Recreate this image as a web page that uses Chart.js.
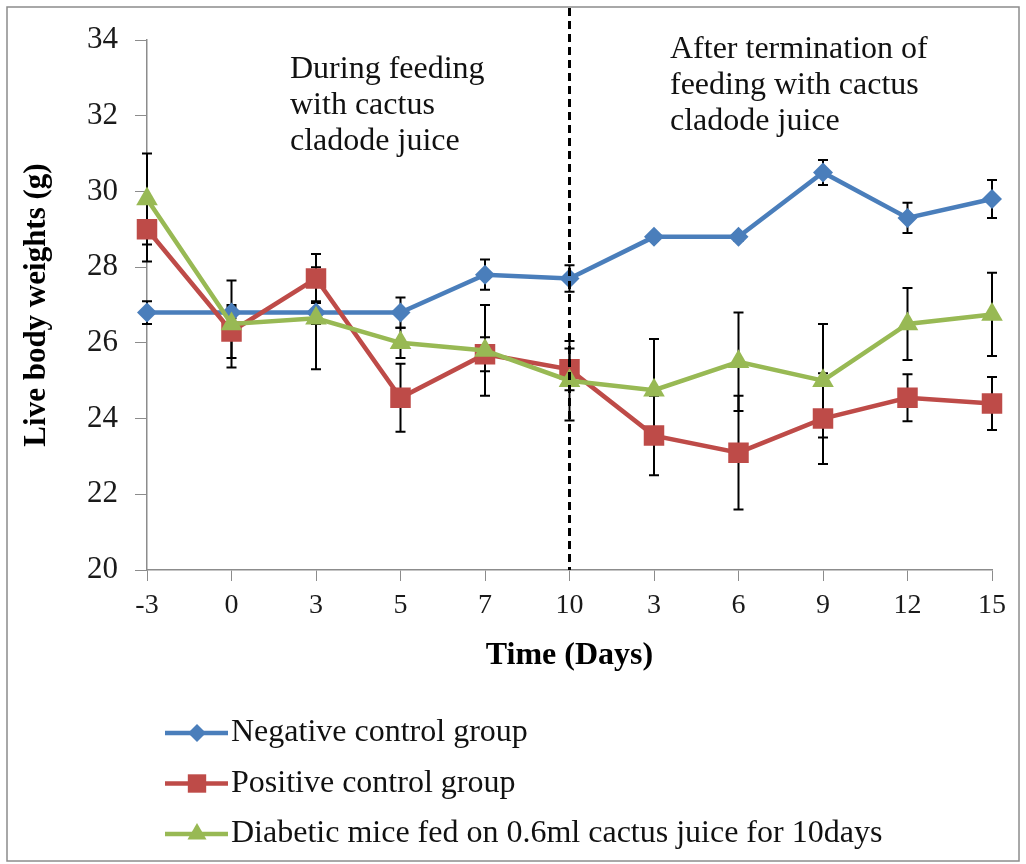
<!DOCTYPE html>
<html>
<head>
<meta charset="utf-8">
<script src="https://cdn.jsdelivr.net/npm/chart.js@4/dist/chart.umd.min.js"></script>
<style>
  html, body { margin: 0; padding: 0; background: #fff; }
  canvas { display: block; }
</style>
</head>
<body>
<canvas id="myChart" width="1026" height="864"></canvas>
<script>
// days on the x axis (before and after juice withdrawal)
const dayLabels = ['-3', '0', '3', '5', '7', '10', '3', '6', '9', '12', '15'];

// mean live body weight (g) per group
const negativeGroup = [26.8, 26.8, 26.8, 26.8, 27.8, 27.7, 28.8, 28.8, 30.5, 29.3, 29.8];
const positiveGroup = [29.0, 26.3, 27.7, 24.55, 25.7, 25.3, 23.55, 23.1, 24.0, 24.55, 24.4];
const cactusGroup   = [29.8, 26.5, 26.65, 26.0, 25.8, 25.0, 24.75, 25.5, 25.0, 26.5, 26.75];

// standard error for each point
const negativeErr = [0.3, 0.15, 0.3, 0.4, 0.4, 0.35, 0.1, 0.1, 0.33, 0.4, 0.5];
const positiveErr = [0.85, 0.7, 0.65, 0.9, 0.45, 0.55, 1.05, 1.5, 1.2, 0.62, 0.7];
const cactusErr   = [1.2, 1.15, 1.35, 0.4, 1.2, 1.05, 1.35, 1.3, 1.5, 0.95, 1.1];

const seriesNames = [
  'Negative control group',
  'Positive control group',
  'Diabetic mice fed on 0.6ml cactus juice for 10days'
];

const yTicks = [20, 22, 24, 26, 28, 30, 32, 34];
const withdrawalIndex = 5; // juice stopped after day 10

const fontSerif = '"Liberation Serif", "Times New Roman", serif';
const blue = '#4A7EBB';
const red = '#BE4B48';
const green = '#98B954';

// error bars, drawn under the markers
const errorBars = {
  id: 'errorBars',
  beforeDatasetsDraw(chart) {
    const ctx = chart.ctx;
    const y = chart.scales.y;
    ctx.save();
    ctx.strokeStyle = '#000';
    ctx.lineWidth = 2;
    chart.data.datasets.forEach((ds, i) => {
      const meta = chart.getDatasetMeta(i);
      meta.data.forEach((pt, j) => {
        const v = ds.data[j];
        const e = ds.errors[j];
        const yTop = y.getPixelForValue(v + e);
        const yBot = y.getPixelForValue(v - e);
        ctx.beginPath();
        ctx.moveTo(pt.x, yTop);
        ctx.lineTo(pt.x, yBot);
        ctx.moveTo(pt.x - 5, yTop);
        ctx.lineTo(pt.x + 5, yTop);
        ctx.moveTo(pt.x - 5, yBot);
        ctx.lineTo(pt.x + 5, yBot);
        ctx.stroke();
      });
    });
    ctx.restore();
  }
};

// dashed divider, phase notes, legend and outer frame
const extras = {
  id: 'extras',
  afterDatasetsDraw(chart) {
    const ctx = chart.ctx;
    const area = chart.chartArea;
    const xs = chart.scales.x;
    const xDiv = xs.getPixelForValue(withdrawalIndex);

    ctx.save();
    ctx.strokeStyle = '#000';
    ctx.lineWidth = 3;
    ctx.setLineDash([8, 5]);
    ctx.beginPath();
    ctx.moveTo(xDiv, 8);
    ctx.lineTo(xDiv, area.bottom);
    ctx.stroke();
    ctx.restore();
  },
  afterDraw(chart) {
    const ctx = chart.ctx;
    const area = chart.chartArea;

    ctx.save();
    ctx.fillStyle = '#111';
    ctx.font = '32px ' + fontSerif;
    ctx.textBaseline = 'alphabetic';
    ctx.textAlign = 'left';
    ['During feeding', 'with cactus', 'cladode juice'].forEach((t, i) => {
      ctx.fillText(t, area.left + 143, area.top + 38 + i * 36);
    });
    ['After termination of', 'feeding with cactus', 'cladode juice'].forEach((t, i) => {
      ctx.fillText(t, area.left + 523, area.top + 18 + i * 36);
    });

    // legend
    const colors = [blue, red, green];
    const styles = ['rectRot', 'rect', 'triangle'];
    const radii = [9, 13, 11];
    ctx.font = '32px ' + fontSerif;
    ctx.textBaseline = 'middle';
    seriesNames.forEach((name, i) => {
      const cy = 733 + i * 50.5;
      ctx.strokeStyle = colors[i];
      ctx.lineWidth = 4.5;
      ctx.beginPath();
      ctx.moveTo(165, cy);
      ctx.lineTo(228, cy);
      ctx.stroke();
      ctx.fillStyle = colors[i];
      Chart.helpers.drawPoint(ctx, {
        pointStyle: styles[i], radius: radii[i], rotation: 0, borderWidth: 0
      }, 197, cy);
      ctx.fillStyle = '#111';
      ctx.fillText(name, 231, cy);
    });

    // outer frame
    ctx.strokeStyle = '#8c8c8c';
    ctx.lineWidth = 1.5;
    ctx.setLineDash([]);
    ctx.strokeRect(7, 7, 1012, 854);
    ctx.restore();
  }
};

const ctx = document.getElementById('myChart');

new Chart(ctx, {
  type: 'line',
  data: {
    labels: dayLabels,
    datasets: [
      {
        label: seriesNames[0],
        data: negativeGroup,
        errors: negativeErr,
        borderColor: blue,
        backgroundColor: blue,
        borderWidth: 4.5,
        pointStyle: 'rectRot',
        pointRadius: 10,
        pointBorderWidth: 0,
        order: 3
      },
      {
        label: seriesNames[1],
        data: positiveGroup,
        errors: positiveErr,
        borderColor: red,
        backgroundColor: red,
        borderWidth: 4.5,
        pointStyle: 'rect',
        pointRadius: 14.5,
        pointBorderWidth: 0,
        order: 2
      },
      {
        label: seriesNames[2],
        data: cactusGroup,
        errors: cactusErr,
        borderColor: green,
        backgroundColor: green,
        borderWidth: 4.5,
        pointStyle: 'triangle',
        pointRadius: 12.5,
        pointBorderWidth: 0,
        order: 1
      }
    ]
  },
  options: {
    responsive: false,
    animation: false,
    layout: {
      padding: { top: 40, right: 34, bottom: 189, left: 0 }
    },
    plugins: {
      legend: { display: false },
      tooltip: { enabled: false }
    },
    elements: {
      line: { tension: 0 }
    },
    scales: {
      x: {
        type: 'category',
        offset: false,
        grid: {
          drawOnChartArea: false,
          drawTicks: true,
          tickLength: 11,
          color: '#8c8c8c'
        },
        border: { display: true, color: '#8c8c8c', width: 1.5 },
        ticks: {
          color: '#1a1a1a',
          padding: 8,
          maxRotation: 0,
          autoSkip: false,
          font: { family: fontSerif, size: 28 }
        },
        title: {
          display: true,
          text: 'Time (Days)',
          color: '#000',
          padding: { top: 0, bottom: 0 },
          font: { family: fontSerif, size: 32, weight: 'bold' }
        },
        afterFit(scale) { scale.height = 105; }
      },
      y: {
        min: 20,
        max: 34,
        afterBuildTicks(scale) {
          scale.ticks = yTicks.map(v => ({ value: v }));
        },
        grid: {
          drawOnChartArea: false,
          drawTicks: true,
          tickLength: 12,
          color: '#8c8c8c'
        },
        border: { display: true, color: '#8c8c8c', width: 1.5 },
        ticks: {
          color: '#1a1a1a',
          padding: 17,
          font: { family: fontSerif, size: 31 }
        },
        title: {
          display: true,
          text: 'Live body weights (g)',
          color: '#000',
          padding: { top: 18, bottom: 0 },
          font: { family: fontSerif, size: 31, weight: 'bold' }
        },
        afterFit(scale) { scale.width = 147; }
      }
    }
  },
  plugins: [errorBars, extras]
});
</script>
</body>
</html>
